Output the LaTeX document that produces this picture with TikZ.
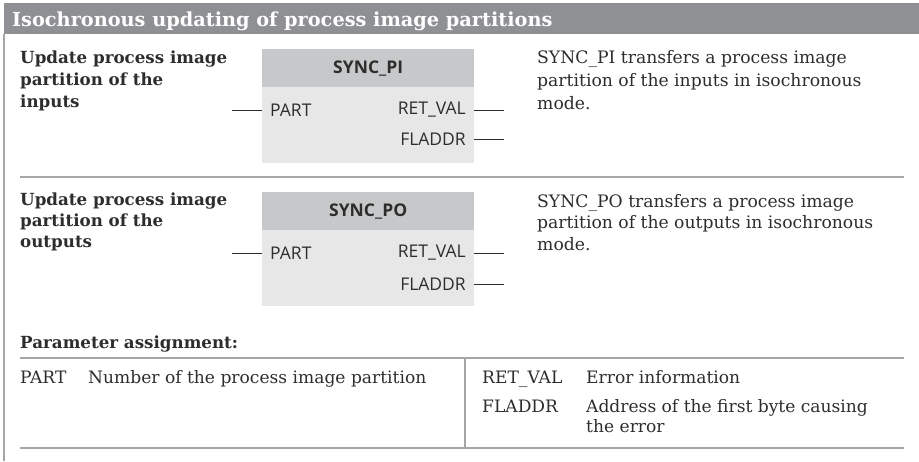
\documentclass[tikz,border=0pt]{standalone}
\usepackage{fontspec}
\setmainfont{DejaVu Serif}
\newfontfamily\blocksans{Open Sans}
\definecolor{headbar}{RGB}{143,144,148}
\definecolor{txt}{RGB}{45,45,45}
\definecolor{blkhead}{RGB}{199,200,201}
\definecolor{blkbody}{RGB}{230,231,230}
\definecolor{rule}{RGB}{165,166,168}
\tikzset{
  bartitle/.style={anchor=base west, inner sep=0pt, text=white, font=\fontsize{19.3}{22}\selectfont\bfseries},
  sectitle/.style={anchor=base west, inner sep=0pt, text=txt, align=left, font=\fontsize{16.7}{22}\selectfont\bfseries},
  desc/.style={anchor=base west, inner sep=0pt, text=txt, align=left, font=\fontsize{17.2}{22}\selectfont},
  blockbody/.style={anchor=north west, inner sep=0pt, fill=blkbody, minimum width=212pt},
  blockhead/.style={anchor=north west, inner sep=0pt, fill=blkhead, minimum width=212pt, minimum height=38pt, text=txt, font=\blocksans\fontsize{17.5}{20}\selectfont\bfseries},
  pinlabel/.style={inner sep=0pt, text=txt, font=\blocksans\fontsize{17.5}{20}\selectfont},
  wire/.style={draw=txt, line width=1pt},
  rulel/.style={draw=rule, line width=1.3pt},
  param/.style={anchor=base west, inner sep=0pt, text=txt, align=left, font=\fontsize{17.1}{20}\selectfont}
}
\begin{document}
\begin{tikzpicture}[x=1pt,y=-1pt]
\useasboundingbox (0,0) rectangle (919,461);
% header bar
\node[anchor=north west, fill=headbar, minimum width=915pt, minimum height=31pt, inner sep=0pt] (bar) at (4,3) {};
\node[bartitle] (bartext) at (12,26) {Isochronous updating of process image partitions};
\coordinate (leftbot) at (4,461);
\draw[rulel] (bar.south west) -- (leftbot);
% ---- section 1
\node[sectitle] (t1) at (20,107) {Update process image\\partition of the\\inputs};
\node[blockbody, minimum height=114pt] (pi) at (262,49) {};
\node[blockhead] (pih) at (262,49) {SYNC\_PI};
\node[pinlabel, anchor=west] (pipart) at (270,110) {PART};
\node[pinlabel, anchor=east] (piret) at (466,110) {RET\_VAL};
\node[pinlabel, anchor=east] (pifl) at (466,139) {FLADDR};
\coordinate (pipartin) at (232,110);
\coordinate (piretout) at (504,110);
\coordinate (pifluot) at (504,139);
\draw[wire] (pipartin) -- (pipartin -| pi.west);
\draw[wire] (piretout -| pi.east) -- (piretout);
\draw[wire] (pifluot -| pi.east) -- (pifluot);
\node[desc, font=\fontsize{17.2}{23}\selectfont] (d1) at (537,109) {SYNC\_PI transfers a process image\\partition of the inputs in isochronous\\mode.};
\coordinate (sep1a) at (20,177);
\coordinate (sep1b) at (904,177);
\draw[rulel] (sep1a) -- (sep1b);
% ---- section 2
\node[sectitle, font=\fontsize{16.7}{21}\selectfont\bfseries] (t2) at (20,247) {Update process image\\partition of the\\outputs};
\node[blockbody, minimum height=114pt] (po) at (262,192) {};
\node[blockhead] (poh) at (262,192) {SYNC\_PO};
\node[pinlabel, anchor=west] (popart) at (270,253) {PART};
\node[pinlabel, anchor=east] (poret) at (466,253) {RET\_VAL};
\node[pinlabel, anchor=east] (pofl) at (466,284) {FLADDR};
\coordinate (popartin) at (232,253);
\coordinate (poretout) at (504,253);
\coordinate (pofluot) at (504,284);
\draw[wire] (popartin) -- (popartin -| po.west);
\draw[wire] (poretout -| po.east) -- (poretout);
\draw[wire] (pofluot -| po.east) -- (pofluot);
\node[desc, font=\fontsize{17.2}{21.5}\selectfont] (d2) at (537,250) {SYNC\_PO transfers a process image\\partition of the outputs in isochronous\\mode.};
% ---- parameters
\node[sectitle] (pa) at (20,348) {Parameter assignment:};
\coordinate (sep2a) at (20,358);
\coordinate (sep2b) at (904,358);
\draw[rulel] (sep2a) -- (sep2b);
\node[param] (p1) at (20,383) {PART};
\node[param] (p1d) at (88,383) {Number of the process image partition};
\node[param] (p2) at (482,383) {RET\_VAL};
\node[param] (p2d) at (586,383) {Error information};
\node[param] (p3) at (482,412) {FLADDR};
\node[param] (p3d) at (586,432) {Address of the first byte causing\\the error};
\coordinate (vtop) at (465,358);
\coordinate (vbot) at (465,448);
\draw[rulel] (vtop) -- (vbot);
\coordinate (sep3a) at (20,448);
\coordinate (sep3b) at (904,448);
\draw[rulel] (sep3a) -- (sep3b);
\end{tikzpicture}
\end{document}
